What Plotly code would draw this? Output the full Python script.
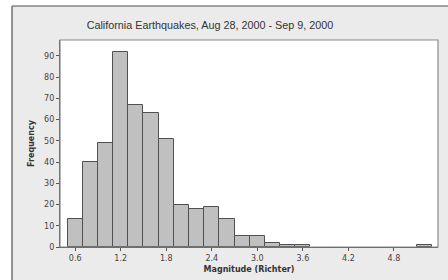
import plotly.graph_objects as go

bin_centers = [0.6, 0.8, 1.0, 1.2, 1.4, 1.6, 1.8, 2.0, 2.2, 2.4, 2.6, 2.8, 3.0, 3.2, 3.4, 3.6, 5.2]
frequencies = [13, 40, 49, 92, 67, 63, 51, 20, 18, 19, 13, 5, 5, 2, 1, 1, 1]
x_ticks = [0.6, 1.2, 1.8, 2.4, 3.0, 3.6, 4.2, 4.8]
y_ticks = [0, 10, 20, 30, 40, 50, 60, 70, 80, 90]

W, H = 448, 280
L, R, T, B = 60, 10, 40, 33
pw, ph = W - L - R, H - T - B

def px(x):
    return (x - L) / pw

def py(y):
    return (H - B - y) / ph

fig = go.Figure()
fig.add_trace(go.Bar(
    x=bin_centers, y=frequencies, width=0.2,
    marker=dict(color="#c0c0c0", line=dict(color="#505050", width=1)),
    hoverinfo="x+y",
))

font = "DejaVu Sans, Verdana, sans-serif"
shapes = [
    dict(type="rect", xref="paper", yref="paper", x0=px(0), x1=px(12), y0=py(H), y1=py(0),
         fillcolor="white", line=dict(width=0), layer="below"),
    dict(type="rect", xref="paper", yref="paper", x0=px(0), x1=px(W), y0=py(6), y1=py(0),
         fillcolor="white", line=dict(width=0), layer="below"),
    dict(type="line", xref="paper", yref="paper", x0=px(12), x1=px(12), y0=py(H + 2), y1=py(6),
         line=dict(color="#505050", width=1.2)),
    dict(type="line", xref="paper", yref="paper", x0=px(12), x1=px(W + 2), y0=py(6), y1=py(6),
         line=dict(color="#505050", width=1.2)),
    dict(type="rect", xref="paper", yref="paper", x0=0, x1=1, y0=0, y1=1,
         line=dict(color="#8a8a8a", width=1.2), layer="above"),
]

fig.update_layout(
    width=W, height=H,
    margin=dict(l=L, r=R, t=T, b=B, pad=0, autoexpand=False),
    paper_bgcolor="#ebebeb", plot_bgcolor="white",
    showlegend=False, bargap=0,
    title=dict(text="California Earthquakes, Aug 28, 2000 - Sep 9, 2000",
               x=210 / W, xanchor="center", y=1 - 25 / H, yanchor="middle",
               font=dict(family="Liberation Sans, Arial, sans-serif", size=10.8, color="#333333")),
    shapes=shapes,
    font=dict(family=font, color="#444444"),
)
fig.update_xaxes(
    range=[0.40, 5.38], tickvals=x_ticks, ticktext=[f"{v:.1f}" for v in x_ticks],
    ticks="outside", ticklen=3, tickcolor="#555555", tickfont=dict(size=8, color="#444444"),
    showline=True, linecolor="#555555", linewidth=1.2, showgrid=False, zeroline=False,
    automargin=False,
    title=dict(text="<b>Magnitude (Richter)</b>", font=dict(size=8, color="#333333"), standoff=4),
)
fig.update_yaxes(
    range=[0, 97.5], tickvals=y_ticks,
    ticks="outside", ticklen=3, tickcolor="#555555", tickfont=dict(size=8, color="#444444"),
    showline=True, linecolor="#555555", linewidth=1.2, showgrid=False, zeroline=False,
    automargin=False,
    title=dict(text="<b>Frequency</b>", font=dict(size=8, color="#333333"), standoff=8),
)

fig.write_html("out.html", config={"displayModeBar": False},
               post_script="document.body.style.margin='0';document.body.style.overflow='hidden';")
